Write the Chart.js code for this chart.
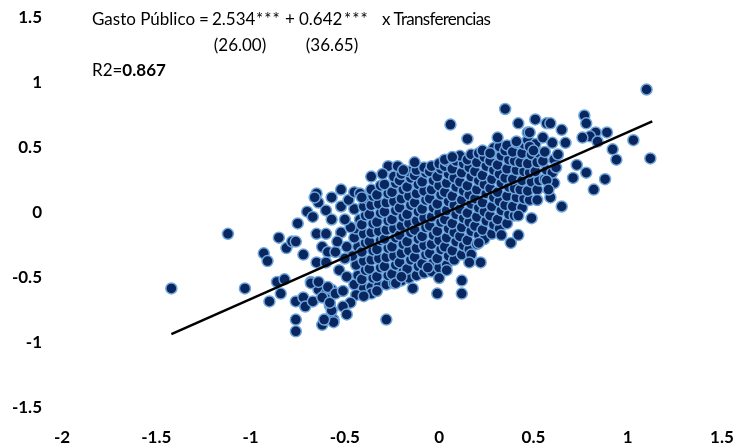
<!DOCTYPE html>
<html>
<head>
<meta charset="utf-8">
<script src="https://cdn.jsdelivr.net/npm/chart.js@4.4.1/dist/chart.umd.min.js"></script>
<style>
  html, body { margin: 0; padding: 0; background: #ffffff; }
  #wrap { width: 741px; height: 444px; }
</style>
</head>
<body>
<div id="wrap"><canvas id="c" width="741" height="444"></canvas></div>
<script>
// Axis ticks
const xTicks = [-2, -1.5, -1, -0.5, 0, 0.5, 1, 1.5];
const yTicks = [-1.5, -1, -0.5, 0, 0.5, 1, 1.5];

// Fitted regression: slope and intercept, and the span of the fitted line
const pendiente = 0.642;
const intercepto = -0.02;
const rangoAjuste = [-1.42, 1.13];

// Equation text, split into its pieces
const ecuacionPartes = ['Gasto Público', '=', '2.534', '***', '+', '0.642', '***', 'x Transferencias'];
const estadisticosT = ['(26.00)', '(36.65)'];
const r2Etiqueta = 'R2=';
const r2Valor = '0.867';

// Observations [transferencias, gasto público] – dense central band
const nucleo = [
  [-0.45,-0.55],[-0.43,-0.48],[-0.44,-0.40],[-0.46,-0.33],[-0.43,-0.26],[-0.45,-0.19],[-0.44,-0.12],[-0.42,-0.05],[-0.45,0.03],
  [-0.40,-0.58],[-0.41,-0.51],[-0.39,-0.44],[-0.40,-0.37],[-0.41,-0.30],[-0.39,-0.23],[-0.40,-0.16],[-0.41,-0.09],[-0.39,-0.02],[-0.40,0.05],[-0.38,0.11],
  [-0.36,-0.57],[-0.35,-0.50],[-0.37,-0.43],[-0.36,-0.36],[-0.35,-0.29],[-0.37,-0.22],[-0.36,-0.15],[-0.35,-0.08],[-0.37,-0.01],[-0.36,0.06],[-0.35,0.13],[-0.36,0.18],
  [-0.32,-0.56],[-0.33,-0.49],[-0.31,-0.42],[-0.32,-0.35],[-0.33,-0.28],[-0.31,-0.21],[-0.32,-0.14],[-0.33,-0.07],[-0.31,0.00],[-0.32,0.07],[-0.33,0.14],[-0.31,0.21],
  [-0.28,-0.55],[-0.27,-0.48],[-0.29,-0.41],[-0.28,-0.34],[-0.27,-0.27],[-0.29,-0.20],[-0.28,-0.13],[-0.27,-0.06],[-0.29,0.01],[-0.28,0.08],[-0.27,0.15],[-0.29,0.22],
  [-0.24,-0.54],[-0.25,-0.47],[-0.23,-0.40],[-0.24,-0.33],[-0.25,-0.26],[-0.23,-0.19],[-0.24,-0.12],[-0.25,-0.05],[-0.23,0.02],[-0.24,0.09],[-0.25,0.16],[-0.23,0.23],[-0.24,0.28],
  [-0.20,-0.52],[-0.19,-0.45],[-0.21,-0.38],[-0.20,-0.31],[-0.19,-0.24],[-0.21,-0.17],[-0.20,-0.10],[-0.19,-0.03],[-0.21,0.04],[-0.20,0.11],[-0.19,0.18],[-0.21,0.25],[-0.20,0.30],
  [-0.16,-0.50],[-0.17,-0.43],[-0.15,-0.36],[-0.16,-0.29],[-0.17,-0.22],[-0.15,-0.15],[-0.16,-0.08],[-0.17,-0.01],[-0.15,0.06],[-0.16,0.13],[-0.17,0.20],[-0.15,0.27],[-0.16,0.32],
  [-0.12,-0.48],[-0.11,-0.41],[-0.13,-0.34],[-0.12,-0.27],[-0.11,-0.20],[-0.13,-0.13],[-0.12,-0.06],[-0.11,0.01],[-0.13,0.08],[-0.12,0.15],[-0.11,0.22],[-0.13,0.29],[-0.12,0.33],
  [-0.08,-0.46],[-0.09,-0.39],[-0.07,-0.32],[-0.08,-0.25],[-0.09,-0.18],[-0.07,-0.11],[-0.08,-0.04],[-0.09,0.03],[-0.07,0.10],[-0.08,0.17],[-0.09,0.24],[-0.07,0.31],[-0.08,0.35],
  [-0.04,-0.45],[-0.03,-0.38],[-0.05,-0.31],[-0.04,-0.24],[-0.03,-0.17],[-0.05,-0.10],[-0.04,-0.03],[-0.03,0.04],[-0.05,0.11],[-0.04,0.18],[-0.03,0.25],[-0.05,0.32],[-0.04,0.36],
  [0.00,-0.42],[-0.01,-0.35],[0.01,-0.28],[0.00,-0.21],[-0.01,-0.14],[0.01,-0.07],[0.00,0.00],[-0.01,0.07],[0.01,0.14],[0.00,0.21],[-0.01,0.28],[0.01,0.34],[0.00,0.38],
  [0.04,-0.40],[0.05,-0.33],[0.03,-0.26],[0.04,-0.19],[0.05,-0.12],[0.03,-0.05],[0.04,0.02],[0.05,0.09],[0.03,0.16],[0.04,0.23],[0.05,0.30],[0.03,0.36],[0.04,0.40],
  [0.08,-0.36],[0.07,-0.29],[0.09,-0.22],[0.08,-0.15],[0.07,-0.08],[0.09,-0.01],[0.08,0.06],[0.07,0.13],[0.09,0.20],[0.08,0.27],[0.07,0.34],[0.09,0.40],
  [0.12,-0.32],[0.13,-0.25],[0.11,-0.18],[0.12,-0.11],[0.13,-0.04],[0.11,0.03],[0.12,0.10],[0.13,0.17],[0.11,0.24],[0.12,0.31],[0.13,0.38],[0.11,0.44],
  [0.16,-0.28],[0.15,-0.21],[0.17,-0.14],[0.16,-0.07],[0.15,0.00],[0.17,0.07],[0.16,0.14],[0.15,0.21],[0.17,0.28],[0.16,0.35],[0.15,0.41],[0.17,0.45],
  [0.20,-0.24],[0.21,-0.17],[0.19,-0.10],[0.20,-0.03],[0.21,0.04],[0.19,0.11],[0.20,0.18],[0.21,0.25],[0.19,0.32],[0.20,0.39],[0.21,0.46],
  [0.24,-0.20],[0.23,-0.13],[0.25,-0.06],[0.24,0.01],[0.23,0.08],[0.25,0.15],[0.24,0.22],[0.23,0.29],[0.25,0.36],[0.24,0.43],[0.23,0.48],
  [0.28,-0.16],[0.29,-0.09],[0.27,-0.02],[0.28,0.05],[0.29,0.12],[0.27,0.19],[0.28,0.26],[0.29,0.33],[0.27,0.40],[0.28,0.46],[0.29,0.50],
  [0.32,-0.12],[0.31,-0.05],[0.33,0.02],[0.32,0.09],[0.31,0.16],[0.33,0.23],[0.32,0.30],[0.31,0.37],[0.33,0.44],[0.32,0.51],
  [0.36,-0.08],[0.37,-0.01],[0.35,0.06],[0.36,0.13],[0.37,0.20],[0.35,0.27],[0.36,0.34],[0.37,0.41],[0.35,0.48],[0.36,0.52],
  [0.40,-0.02],[0.39,0.05],[0.41,0.12],[0.40,0.19],[0.39,0.26],[0.41,0.33],[0.40,0.40],[0.39,0.47],[0.41,0.54],
  [0.44,0.04],[0.45,0.11],[0.43,0.18],[0.44,0.25],[0.45,0.32],[0.43,0.39],[0.44,0.46],[0.45,0.53],
  [0.48,0.10],[0.47,0.17],[0.49,0.24],[0.48,0.31],[0.47,0.38],[0.49,0.45],[0.48,0.52],[0.47,0.56],
  [0.52,0.18],[0.53,0.25],[0.51,0.32],[0.52,0.39],[0.53,0.46],[0.51,0.53],
  [0.56,0.26],[0.57,0.33],[0.55,0.40],[0.56,0.47]
];

// Observations away from the central band
const periferia = [
  // left tail
  [-1.42,-0.58],[-1.12,-0.16],[-1.03,-0.58],[-0.93,-0.31],[-0.91,-0.37],[-0.85,-0.19],[-0.86,-0.53],[-0.82,-0.51],
  [-0.84,-0.62],[-0.90,-0.68],[-0.81,-0.27],[-0.78,-0.22],[-0.76,-0.22],[-0.75,-0.08],[-0.72,-0.32],[-0.70,0.01],
  [-0.67,-0.03],[-0.65,0.15],[-0.64,0.08],[-0.66,0.12],[-0.60,0.02],[-0.57,0.12],[-0.57,-0.05],[-0.76,-0.68],
  [-0.72,-0.65],[-0.71,-0.72],[-0.67,-0.68],[-0.76,-0.82],[-0.76,-0.91],[-0.68,-0.53],[-0.65,-0.16],[-0.60,-0.16],
  [-0.65,-0.38],[-0.62,-0.26],[-0.59,-0.30],[-0.64,-0.59],[-0.60,-0.62],[-0.57,-0.59],[-0.62,-0.86],[-0.60,-0.82],
  [-0.56,-0.82],[-0.58,-0.71],[-0.57,-0.75],[-0.60,-0.38],[-0.53,-0.44],[-0.68,-0.54],[-0.64,-0.53],[-0.59,-0.57],
  [-0.62,-0.65],[-0.58,-0.69],[-0.55,-0.62],[-0.52,-0.15],[-0.47,-0.11],[-0.49,-0.26],[-0.49,-0.49],[-0.50,-0.35],
  [-0.55,-0.30],[-0.52,0.05],[-0.48,0.10],[-0.50,-0.05],[-0.54,-0.22],[-0.51,-0.60],
  // upper edge
  [-0.52,0.18],[-0.45,0.16],[-0.42,0.15],[-0.41,0.12],[-0.36,0.28],[-0.27,0.36],[-0.22,0.36],[-0.19,0.33],
  [-0.13,0.39],[-0.30,0.30],[0.03,0.41],[0.07,0.43],[0.06,0.68],[0.15,0.57],[0.31,0.58],[0.35,0.80],
  [0.27,0.46],[0.41,0.55],[0.48,0.51],[0.42,0.69],[0.47,0.62],[0.51,0.72],[0.57,0.69],[0.55,0.58],
  [0.60,0.54],[0.67,0.54],[0.65,0.64],[0.59,0.69],[0.48,0.62],[0.50,0.48],
  // lower edge
  [-0.44,-0.63],[-0.47,-0.69],[-0.51,-0.72],[-0.36,-0.62],[-0.28,-0.82],[-0.49,-0.78],[-0.56,-0.84],[-0.61,-0.82],
  [-0.23,-0.54],[-0.20,-0.49],[-0.14,-0.58],[-0.01,-0.62],[0.12,-0.52],[0.12,-0.62],[0.00,-0.50],[0.04,-0.44],
  [-0.06,-0.42],[0.17,-0.32],[0.22,-0.38],[0.16,-0.38],[0.21,-0.23],[0.33,-0.17],[0.38,-0.23],[0.42,-0.17],
  [0.49,-0.04],[0.42,-0.02],[-0.40,-0.64],[-0.33,-0.60],
  // right tail
  [1.10,0.95],[1.12,0.42],[0.77,0.75],[0.78,0.69],[0.89,0.62],[0.83,0.62],[0.80,0.59],[0.76,0.58],
  [0.84,0.55],[1.03,0.56],[0.92,0.49],[0.94,0.41],[0.88,0.26],[0.82,0.18],[0.78,0.31],[0.71,0.27],
  [0.73,0.37],[0.65,0.05],[0.59,0.12],[0.52,0.10],[0.61,0.23],[0.60,0.31],[0.61,0.41],[0.57,0.25],
  [0.58,0.18],[0.63,0.45],[0.62,0.35]
];

const observaciones = nucleo.concat(periferia).map(([x, y]) => ({ x, y }));
const lineaAjuste = rangoAjuste.map(x => ({ x, y: intercepto + pendiente * x }));

const FONT = "Lato, 'Liberation Sans', 'DejaVu Sans', sans-serif";

// Equation and fit statistics written in the upper-left corner
const ecuacionPlugin = {
  id: 'ecuacion',
  afterDraw(chart) {
    const ctx = chart.ctx;
    ctx.save();
    ctx.fillStyle = '#000000';
    ctx.textBaseline = 'middle';
    ctx.font = '17px ' + FONT;
    // x position, alignment and letter spacing of each piece of the first line
    const posiciones = [
      [92, 'left', '0px'], [204, 'center', '0px'], [212, 'left', '0px'], [256, 'left', '1px'],
      [290, 'center', '0px'], [299, 'left', '0px'], [344, 'left', '1px'], [382, 'left', '-0.7px']
    ];
    ecuacionPartes.forEach((t, i) => {
      ctx.textAlign = posiciones[i][1];
      ctx.letterSpacing = posiciones[i][2];
      ctx.fillText(t, posiciones[i][0], 20);
    });
    ctx.letterSpacing = '0px';
    ctx.textAlign = 'center';
    ctx.fillText(estadisticosT[0], 240, 46);
    ctx.fillText(estadisticosT[1], 332, 46);
    ctx.textAlign = 'left';
    ctx.fillText(r2Etiqueta, 92, 71);
    const w = ctx.measureText(r2Etiqueta).width;
    ctx.font = 'bold 17px ' + FONT;
    ctx.fillText(r2Valor, 92 + w, 71);
    ctx.restore();
  }
};

new Chart(document.getElementById('c'), {
  type: 'scatter',
  data: {
    datasets: [
      {
        label: 'Ajuste',
        data: lineaAjuste,
        showLine: true,
        borderColor: '#000000',
        borderWidth: 2.5,
        pointRadius: 0,
        order: 0
      },
      {
        label: 'Observaciones',
        data: observaciones,
        backgroundColor: '#09265e',
        borderColor: '#6fa6dc',
        borderWidth: 1.5,
        pointRadius: 5.5,
        order: 1
      }
    ]
  },
  options: {
    responsive: false,
    animation: false,
    layout: { padding: { top: 18, right: 19, left: 0, bottom: 0 } },
    plugins: {
      legend: { display: false },
      tooltip: { enabled: false }
    },
    scales: {
      x: {
        type: 'linear',
        min: xTicks[0],
        max: xTicks[xTicks.length - 1],
        afterBuildTicks: s => { s.ticks = xTicks.map(v => ({ value: v })); },
        grid: { display: false, drawTicks: false },
        border: { display: false },
        ticks: {
          padding: 19,
          color: '#000000',
          font: { family: FONT, size: 17, weight: 'bold' },
          callback: v => String(v)
        },
        afterFit: s => { s.height = 36; s.paddingLeft = 0; s.paddingRight = 0; }
      },
      y: {
        type: 'linear',
        min: yTicks[0],
        max: yTicks[yTicks.length - 1],
        afterBuildTicks: s => { s.ticks = yTicks.map(v => ({ value: v })); },
        grid: { display: false, drawTicks: false },
        border: { display: false },
        ticks: {
          padding: 20,
          color: '#000000',
          font: { family: FONT, size: 17, weight: 'bold' },
          callback: v => String(v)
        },
        afterFit: s => { s.width = 62; s.paddingTop = 0; s.paddingBottom = 0; }
      }
    }
  },
  plugins: [ecuacionPlugin]
});
</script>
</body>
</html>
